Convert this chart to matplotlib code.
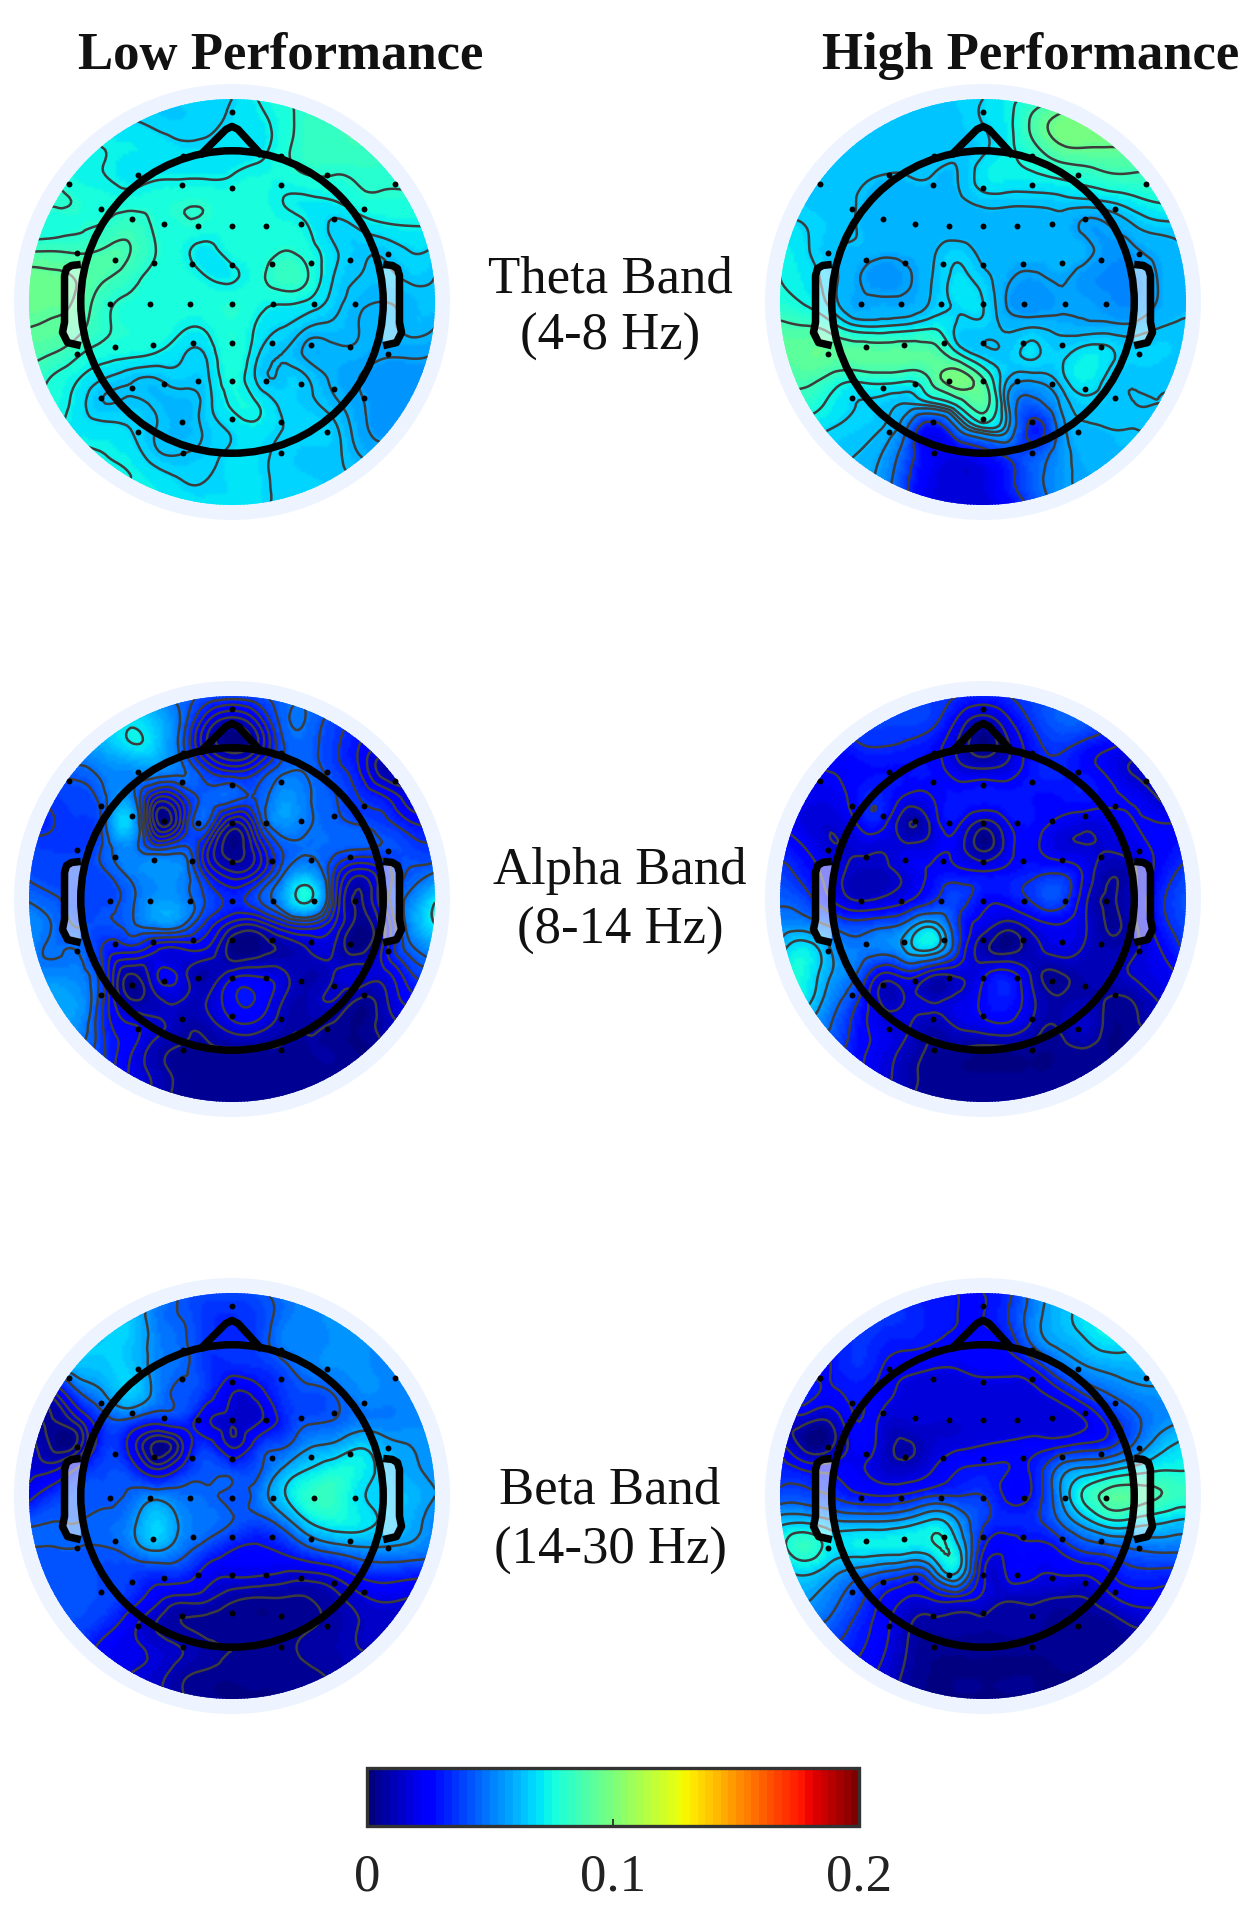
import numpy as np
import matplotlib
matplotlib.use('Agg')
import matplotlib.pyplot as plt
import matplotlib.tri as mtri
from matplotlib.patches import Circle, Polygon
from matplotlib.cm import ScalarMappable
from matplotlib.colors import Normalize

plt.rcParams['font.family'] = ['Liberation Serif', 'DejaVu Serif']

# electrode positions, head radius units of the map
elec_x = [0, -.241, .243, -.462, .469, -.803, .805, -.246, 0, .243, -.646, .649, -.495, .5,
          -.334, -.166, 0, .169, .338, -.766, .77, -.577, -.385, -.195, 0, .197, .387, .58,
          -.602, -.402, -.205, 0, .202, .403, .608, -.577, -.387, -.193, 0, .197, .387, .58,
          -.766, .77, -.495, -.334, -.166, 0, .169, .338, .5, -.646, .649, -.246, 0, .243,
          -.462, .469, -.241, .243]
elec_y = [.938, .721, .721, .628, .628, .579, .579, .575, .562, .575, .459, .459, .411, .411,
          .385, .375, .372, .375, .385, .241, .238, .205, .193, .185, .182, .185, .193, .205,
          -.01, -.01, -.01, -.01, -.01, -.01, -.01, -.223, -.21, -.2, -.2, -.2, -.21, -.223,
          -.257, -.257, -.425, -.403, -.389, -.389, -.389, -.403, -.43, -.472, -.472, -.589, -.574, -.589,
          -.639, -.639, -.746, -.743]

# values on a 17x17 grid, in thousandths, top row first
theta_low = [
    [65,65,65,65,65,66,66,67,68,73,78,80,80,80,80,80,80],
    [69,69,69,69,69,67,66,67,69,71,76,82,84,84,84,84,84],
    [74,74,74,73,72,71,69,69,70,71,77,82,83,84,83,83,83],
    [76,76,74,73,71,72,72,72,73,75,76,79,79,80,80,80,80],
    [80,80,78,76,76,77,78,78,77,77,73,72,73,77,78,78,78],
    [76,76,78,80,83,78,78,77,77,77,76,73,67,69,72,73,73],
    [86,86,85,87,86,79,75,71,76,77,79,76,69,65,65,68,67],
    [95,94,92,87,82,77,77,73,72,77,83,79,68,64,63,65,64],
    [94,94,91,81,78,77,77,77,78,76,74,72,66,62,61,62,63],
    [93,92,88,80,78,77,74,74,78,72,68,64,63,61,60,62,61],
    [88,86,80,76,75,73,69,69,78,69,64,60,60,60,58,58,57],
    [85,78,73,68,65,64,66,67,76,67,65,64,60,57,54,55,55],
    [80,76,70,64,65,63,62,66,74,73,67,65,62,58,54,54,54],
    [76,74,71,70,68,64,62,65,69,71,68,67,65,59,55,55,55],
    [74,74,74,73,71,65,64,66,69,69,67,65,65,61,59,59,59],
    [73,73,73,73,73,71,68,68,69,69,67,66,65,64,63,63,63],
    [71,71,71,71,71,71,70,69,69,69,67,66,65,65,65,65,65],
]
theta_high = [
    [65,65,65,65,65,65,64,66,68,73,78,86,92,92,92,92,92],
    [64,64,64,64,64,64,64,65,68,73,88,98,100,100,100,100,100],
    [65,65,65,65,65,64,64,64,67,73,82,92,94,94,94,94,94],
    [65,65,65,64,63,63,63,63,71,73,74,77,80,84,84,84,84],
    [66,65,64,63,61,61,61,62,65,65,65,66,67,69,73,76,76],
    [69,68,65,63,60,60,60,60,60,60,60,61,57,58,63,66,67],
    [74,69,64,62,60,60,62,66,61,60,60,61,60,55,57,60,63],
    [75,71,65,59,54,57,63,69,65,59,57,59,55,52,52,59,62],
    [78,74,66,59,59,59,64,69,68,57,54,57,57,54,53,59,62],
    [88,86,80,70,69,71,74,67,66,62,63,61,60,60,60,63,64],
    [92,93,93,92,92,92,90,75,65,65,69,66,71,69,66,66,65],
    [88,88,82,78,80,78,88,100,85,63,60,65,73,66,64,64,64],
    [84,80,73,68,66,63,67,78,90,58,45,58,66,65,63,63,63],
    [76,71,68,66,63,49,25,49,66,58,31,52,62,63,63,63,63],
    [66,66,65,63,58,42,22,21,28,38,42,54,60,62,62,62,62],
    [63,63,63,61,55,37,20,17,18,31,45,55,59,60,60,60,60],
    [60,60,60,59,52,34,18,17,17,25,39,52,57,58,58,58,58],
]
alpha_low = [
    [63,63,63,63,63,53,45,41,39,41,45,47,43,38,33,33,33],
    [63,63,63,65,70,63,47,22,10,22,45,47,39,33,24,24,24],
    [53,55,57,61,70,65,45,16,3,14,41,45,37,28,18,18,18],
    [43,43,45,51,53,53,49,37,29,35,47,47,39,29,10,12,12],
    [37,37,39,47,53,22,31,45,45,43,55,49,43,35,29,16,14],
    [33,35,37,47,64,10,24,43,14,35,55,49,45,41,37,29,27],
    [39,37,37,44,52,40,44,24,3,20,43,47,45,43,41,39,37],
    [41,39,39,41,50,55,53,31,16,24,47,59,35,16,29,43,49],
    [47,43,39,39,46,55,53,41,33,41,57,75,33,6,29,51,70],
    [53,47,41,41,46,53,50,33,18,16,29,35,22,4,20,53,72],
    [53,47,47,33,31,22,20,20,3,3,8,14,14,4,24,45,55],
    [53,53,51,33,6,20,18,9,18,20,16,9,14,18,18,33,39],
    [59,59,55,33,8,12,14,14,26,27,14,10,14,6,12,24,24],
    [55,55,53,33,22,16,10,10,18,18,10,8,6,3,10,14,14],
    [53,53,49,35,22,10,6,6,6,6,6,6,6,3,6,8,8],
    [51,51,47,33,20,12,5,5,5,5,5,5,5,5,5,5,5],
    [49,49,45,31,18,10,4,4,4,4,4,4,4,4,4,4,4],
]
alpha_high = [
    [40,40,40,40,40,38,36,34,32,34,38,40,40,36,30,30,30],
    [38,38,38,38,38,38,36,22,10,22,36,44,44,36,28,28,28],
    [26,28,28,32,34,32,28,14,3,14,30,36,30,25,20,20,20],
    [22,22,24,26,28,28,28,20,18,20,30,32,28,22,14,14,14],
    [20,20,20,28,32,22,24,30,30,30,28,28,30,26,22,14,14],
    [24,18,16,24,28,8,18,26,12,24,28,22,18,20,24,24,24],
    [30,24,16,16,16,18,20,20,5,20,26,18,16,16,20,26,30],
    [38,30,20,12,12,18,26,28,26,28,32,34,22,8,14,28,38],
    [44,38,24,14,16,22,32,38,28,28,36,40,18,6,16,32,42],
    [52,52,44,38,42,50,62,36,20,12,20,24,16,6,14,30,40],
    [62,72,58,50,50,60,66,36,10,4,12,18,14,10,14,24,36],
    [72,74,58,46,22,28,16,16,22,28,12,6,10,12,16,20,26],
    [72,70,52,36,14,16,14,18,26,30,16,8,10,6,8,16,18],
    [60,56,46,30,20,16,10,16,20,22,12,8,14,4,6,8,8],
    [50,46,40,28,20,12,6,6,4,4,4,4,6,3,3,3,3],
    [46,44,38,26,18,10,5,4,4,4,4,4,4,4,4,4,4],
    [44,42,36,24,16,8,4,4,4,4,4,4,4,4,4,4,4],
]
beta_low = [
    [56,56,56,56,58,56,42,40,40,42,48,52,52,52,52,52,52],
    [62,62,62,62,64,50,44,36,34,38,48,52,54,54,54,54,54],
    [66,66,66,66,64,52,46,36,34,38,50,52,54,54,52,52,52],
    [36,51,62,64,65,52,46,36,32,34,40,50,53,54,52,52,52],
    [6,16,42,56,65,52,42,34,18,22,36,40,44,52,52,52,52],
    [6,6,18,40,42,34,36,20,14,16,32,42,44,50,50,52,52],
    [16,4,10,36,24,4,16,34,16,34,42,54,58,66,60,56,54],
    [16,18,32,40,36,20,32,42,40,42,58,69,76,74,64,58,54],
    [24,36,42,42,46,52,48,46,42,48,66,80,82,70,66,62,56],
    [42,44,44,46,52,66,54,48,44,40,50,68,75,72,66,60,52],
    [44,44,44,44,50,60,50,40,30,27,32,44,52,56,56,54,50],
    [42,42,42,40,38,36,36,24,20,20,18,18,22,32,36,34,34],
    [42,42,42,40,34,22,16,14,8,6,6,6,10,16,20,18,18],
    [40,40,40,34,22,12,6,4,4,4,4,5,8,12,13,13,13],
    [34,34,34,24,20,16,12,8,6,5,5,7,9,12,12,12,12],
    [24,24,24,22,18,15,8,5,4,4,4,5,7,9,9,9,9],
    [22,22,22,20,16,13,7,4,3,3,3,4,6,8,8,8,8],
]
beta_high = [
    [36,36,36,36,36,32,30,28,28,34,50,60,64,64,64,64,64],
    [36,36,36,36,36,34,30,28,28,36,52,62,70,74,74,74,74],
    [30,30,30,35,32,30,28,26,26,30,48,58,64,70,68,68,68],
    [26,26,28,34,28,22,20,20,22,22,28,44,54,58,60,60,60],
    [30,32,26,30,24,18,17,17,17,17,18,24,36,46,52,54,54],
    [14,14,12,28,18,16,16,16,16,16,16,16,20,32,44,52,56],
    [24,6,8,24,16,9,15,18,20,22,24,26,30,34,48,62,70],
    [32,28,26,22,16,14,20,28,30,28,30,50,60,66,72,76,76],
    [40,40,36,30,28,30,36,36,36,26,30,54,78,90,90,86,82],
    [62,64,58,56,56,60,68,56,38,32,34,46,62,74,72,68,64],
    [72,82,72,72,72,72,74,68,30,24,26,30,40,44,48,50,50],
    [64,68,60,52,46,40,50,66,22,22,22,21,22,28,34,34,34],
    [62,58,50,40,28,20,22,26,18,12,12,10,10,18,24,24,24],
    [52,48,44,34,24,12,8,8,8,8,8,5,5,6,12,12,12],
    [40,38,36,30,22,10,4,4,4,4,4,4,4,4,4,4,4],
    [36,34,32,26,18,8,3,3,3,3,3,3,3,3,3,3,3],
    [34,32,30,24,16,6,3,3,3,3,3,3,3,3,3,3,3],
]

# contour levels per map
levels_theta_low = [57, 61, 64, 68, 73, 79, 86, 93]
levels_theta_high = [35, 49, 58, 63, 68, 75, 85, 95]
levels_alpha_low = [7, 14, 21, 28, 35, 42, 48, 72]
levels_alpha_high = [7, 15, 24, 34, 46, 58, 66]
levels_beta_low = [6, 12, 18, 28, 44, 56, 68]
levels_beta_high = [10, 20, 28, 36, 46, 56, 66, 76, 86]

W, H = 1255, 1913
fig = plt.figure(figsize=(W / 100, H / 100), dpi=100, facecolor='white')

jet = plt.get_cmap('jet', 64)
norm = Normalize(0, 0.2)
map_r = 203.0
half = 222.0

gx, gy = np.meshgrid(np.linspace(-1, 1, 17), np.linspace(1, -1, 17))
triang = mtri.Triangulation(gx.ravel(), gy.ravel())
refiner = mtri.UniformTriRefiner(triang)


def draw_map(cx, cy, values, levels):
    ax = fig.add_axes([(cx - half) / W, 1 - (cy + half) / H, 2 * half / W, 2 * half / H])
    ax.set_xlim(-half / map_r, half / map_r)
    ax.set_ylim(-half / map_r, half / map_r)
    ax.axis('off')
    ax.add_patch(Circle((0, 0), 1.074, fc='#EDF4FF', ec='none', zorder=0))

    z = np.array(values, dtype=float).ravel() / 1000
    t2, z2 = refiner.refine_field(z, subdiv=3)
    clip = Circle((0, 0), 1.0, transform=ax.transData)
    pc = ax.tripcolor(t2, z2, shading='gouraud', cmap=jet, norm=norm, zorder=1)
    pc.set_clip_path(clip)
    cs = ax.tricontour(t2, z2, levels=np.array(levels) / 1000, colors='#3c3c3c', linewidths=1.8, zorder=2)
    cs.set_clip_path(clip)

    ax.scatter(elec_x, elec_y, s=18, c='black', linewidths=0, zorder=3)

    # ears then head and nose
    for sign in (-1, 1):
        ear = [(.745, .185), (.79, .18), (.815, .165), (.825, .13), (.825, -.10), (.835, -.15),
               (.81, -.2), (.745, -.215)]
        pts = [(sign * a, b) for a, b in ear]
        ax.add_patch(Polygon(pts, closed=False, fc=(1, 1, 1, .55), ec='black', lw=5.4, joinstyle='round', zorder=4))
    ax.add_patch(Circle((0, 0), .745, fc='none', ec='black', lw=5.4, zorder=5))
    ax.plot([-.145, -.03, 0, .03, .135], [.735, .85, .865, .85, .735], color='black', lw=5.4,
            solid_joinstyle='round', zorder=5)


draw_map(232, 302, theta_low, levels_theta_low)
draw_map(983, 302, theta_high, levels_theta_high)
draw_map(232, 899, alpha_low, levels_alpha_low)
draw_map(983, 899, alpha_high, levels_alpha_high)
draw_map(232, 1496, beta_low, levels_beta_low)
draw_map(983, 1496, beta_high, levels_beta_high)

# colour bar
cax = fig.add_axes([367 / W, 1 - 1826 / H, 492 / W, 58 / H])
cb = fig.colorbar(ScalarMappable(norm=norm, cmap=jet), cax=cax, orientation='horizontal')
cb.set_ticks([0, 0.1, 0.2])
cb.set_ticklabels(['0', '0.1', '0.2'])
cb.ax.tick_params(direction='in', length=5, width=1.2, color='#222222', labelsize=38, pad=20, labelcolor='#222222')
cb.outline.set_linewidth(2.4)
cb.outline.set_edgecolor('#333333')


def label(x, y, s, **kw):
    fig.text(x / W, 1 - y / H, s, ha='center', va='center', color='#111111', **kw)


label(281, 56, 'Low Performance', fontsize=38, fontweight='bold')
label(1031, 56, 'High Performance', fontsize=38, fontweight='bold')
label(610, 279, 'Theta Band', fontsize=38)
label(610, 337, '(4-8 Hz)', fontsize=38)
label(620, 871, 'Alpha Band', fontsize=38)
label(620, 931, '(8-14 Hz)', fontsize=38)
label(610, 1490, 'Beta Band', fontsize=38)
label(610, 1551, '(14-30 Hz)', fontsize=38)

fig.savefig('out.png', dpi=100)
